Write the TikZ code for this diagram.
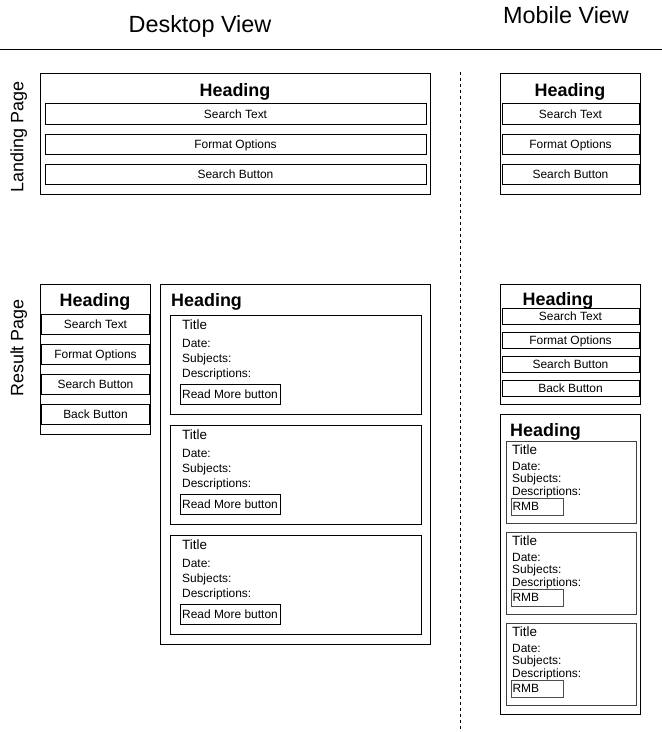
\documentclass[tikz,border=0pt]{standalone}
\usepackage{fontspec}
\setmainfont{Liberation Sans}
\begin{document}
\begin{tikzpicture}[x=1bp,y=-1bp,
  box/.style={draw=black, line width=1bp, inner sep=0pt, outer sep=0pt, anchor=north west},
  btn/.style={box, font=\fontsize{12}{14}\selectfont, text height=8.6pt, text depth=0pt},
  card/.style={box},
  mcard/.style={box, draw=black!75},
  rmb/.style={box, draw=black!70, font=\fontsize{12}{14}\selectfont, inner xsep=1.5bp, text width=49bp, align=left, minimum height=17bp, text height=8.6pt, text depth=0pt},
  head/.style={font=\fontsize{18}{21}\selectfont\bfseries, inner sep=0pt, text height=12.9pt, text depth=0pt},
  big/.style={font=\fontsize{23.5}{27}\selectfont, inner sep=0pt, text height=16.8pt, text depth=0pt},
  side/.style={font=\fontsize{18}{21}\selectfont, inner sep=0pt, rotate=90, text height=12.9pt, text depth=0pt},
  ttl/.style={font=\fontsize{13.5}{16}\selectfont, inner sep=0pt, anchor=west, text height=9.7pt, text depth=0pt},
  lbl/.style={font=\fontsize{12}{14}\selectfont, inner sep=0pt, anchor=west, text height=8.6pt, text depth=0pt}]
\useasboundingbox (0,0) rectangle (662,732);
% titles
\node[big] (desk) at (200,24.5) {Desktop View};
\node[big] (mob) at (566,15.5) {Mobile View};
\coordinate (hl) at (0,50);
\coordinate (hr) at (662,50);
\draw[line width=1bp] (hl) -- (hr);
\coordinate (vt) at (460,72);
\coordinate (vb) at (460,732);
\draw[line width=1bp, dash pattern=on 3bp off 3bp] (vt) -- (vb);
\node[side] (land) at (17,137) {Landing Page};
\node[side] (res) at (17,348) {Result Page};
% desktop landing
\node[box, minimum width=390bp, minimum height=120bp] (dl) at (40,74) {};
\node[head] (dlh) at (235,90) {Heading};
\node[btn, minimum width=381bp, minimum height=20bp] (dls) at (45,104) {Search Text};
\node[btn, minimum width=381bp, minimum height=20bp] (dlf) at (45,134) {Format Options};
\node[btn, minimum width=381bp, minimum height=20bp] (dlb) at (45,164) {Search Button};
% mobile landing
\node[box, minimum width=140bp, minimum height=120bp] (ml) at (500,74) {};
\node[head] (mlh) at (570,90) {Heading};
\node[btn, minimum width=137bp, minimum height=20bp] (mls) at (502,104) {Search Text};
\node[btn, minimum width=137bp, minimum height=20bp] (mlf) at (502,134) {Format Options};
\node[btn, minimum width=137bp, minimum height=20bp] (mlb) at (502,164) {Search Button};
% desktop result left
\node[box, minimum width=110bp, minimum height=150bp] (drl) at (40,284) {};
\node[head] (drlh) at (95,300) {Heading};
\node[btn, minimum width=108bp, minimum height=20bp] (drs) at (41.5,314) {Search Text};
\node[btn, minimum width=108bp, minimum height=20bp] (drf) at (41.5,344) {Format Options};
\node[btn, minimum width=108bp, minimum height=20bp] (drb) at (41.5,374) {Search Button};
\node[btn, minimum width=108bp, minimum height=20bp] (drk) at (41.5,404) {Back Button};
% desktop result right
\node[box, minimum width=270bp, minimum height=360bp] (drr) at (160,284) {};
\node[head, anchor=west] (drrh) at (171,300) {Heading};
\foreach \i/\y in {1/315,2/425,3/535}{
  \node[card, minimum width=251bp, minimum height=99bp] (dcard\i) at (170,\y) {};
  \node[ttl] (dtitle\i) at (182,{\y+10}) {Title};
  \node[lbl] (ddate\i) at (182,{\y+28}) {Date:};
  \node[lbl] (dsubj\i) at (182,{\y+43}) {Subjects:};
  \node[lbl] (ddesc\i) at (182,{\y+58}) {Descriptions:};
  \node[btn, minimum width=100bp, minimum height=20bp] (drm\i) at (180,{\y+69}) {Read More button};
}
% mobile result top
\node[box, minimum width=140bp, minimum height=120bp] (mr) at (500,284) {};
\node[head] (mrh) at (558,299) {Heading};
\node[btn, minimum width=137bp, minimum height=16bp] (mrs) at (502,308) {Search Text};
\node[btn, minimum width=137bp, minimum height=16bp] (mrf) at (502,332) {Format Options};
\node[btn, minimum width=137bp, minimum height=16bp] (mrb) at (502,356) {Search Button};
\node[btn, minimum width=137bp, minimum height=16bp] (mrk) at (502,380) {Back Button};
% mobile results list
\node[box, minimum width=140bp, minimum height=300bp] (mres) at (500,414) {};
\node[head, anchor=west] (mresh) at (510,430) {Heading};
\foreach \i/\y in {1/441,2/532,3/623}{
  \node[mcard, minimum width=130bp, minimum height=82bp] (mcard\i) at (506,\y) {};
  \node[ttl] (mtitle\i) at (512,{\y+9}) {Title};
  \node[lbl] (mdate\i) at (512,{\y+25}) {Date:};
  \node[lbl] (msubj\i) at (512,{\y+37}) {Subjects:};
  \node[lbl] (mdesc\i) at (512,{\y+50}) {Descriptions:};
  \node[rmb] (mrmb\i) at (511,{\y+57}) {RMB};
}
\end{tikzpicture}
\end{document}
